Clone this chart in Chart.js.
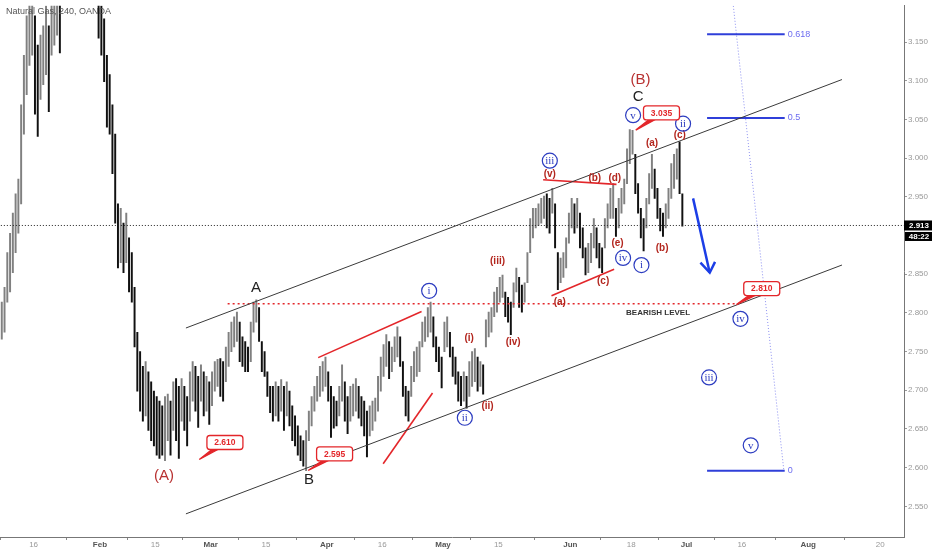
<!DOCTYPE html>
<html>
<head>
<meta charset="utf-8">
<script src="https://cdn.jsdelivr.net/npm/chart.js@4.4.0/dist/chart.umd.min.js"></script>
<style>
    html, body { margin: 0; padding: 0; background: #fff; }
    #wrap { width: 932px; height: 550px; }
</style>
</head>
<body>
<div id="wrap"><canvas id="myChart"></canvas></div>
<script>
// x unit = trading day, 0 = Jan 16 2018; two bars per day
const firstDay = -6;
const barsPerDay = 2;

const barHighs = [
    2.814, 2.833, 2.878, 2.903, 2.929, 2.954, 2.973, 3.069, 3.133, 3.184,
    3.220, 3.220, 3.184, 3.146, 3.159, 3.171, 3.197, 3.171, 3.210, 3.220,
    3.235, 3.210, 3.300, 3.400, 3.480, 3.520, 3.580, 3.620, 3.660, 3.600,
    3.520, 3.450, 3.400, 3.340, 3.300, 3.220, 3.197, 3.180, 3.133, 3.108,
    3.069, 3.031, 2.941, 2.935, 2.916, 2.929, 2.897, 2.878, 2.833, 2.775,
    2.750, 2.731, 2.737, 2.724, 2.711, 2.699, 2.692, 2.686, 2.680, 2.692,
    2.695, 2.686, 2.711, 2.715, 2.705, 2.715, 2.705, 2.692, 2.724, 2.737,
    2.731, 2.718, 2.733, 2.724, 2.718, 2.711, 2.724, 2.737, 2.740, 2.741,
    2.737, 2.756, 2.775, 2.788, 2.795, 2.801, 2.788, 2.769, 2.763, 2.756,
    2.788, 2.814, 2.817, 2.807, 2.763, 2.750, 2.724, 2.705, 2.705, 2.711,
    2.705, 2.714, 2.705, 2.711, 2.699, 2.680, 2.667, 2.654, 2.641, 2.635,
    2.648, 2.673, 2.692, 2.705, 2.718, 2.731, 2.737, 2.743, 2.724, 2.705,
    2.692, 2.686, 2.705, 2.733, 2.711, 2.692, 2.705, 2.708, 2.715, 2.705,
    2.692, 2.686, 2.673, 2.680, 2.686, 2.690, 2.718, 2.743, 2.759, 2.772,
    2.763, 2.756, 2.769, 2.782, 2.769, 2.737, 2.705, 2.699, 2.731, 2.750,
    2.756, 2.763, 2.788, 2.795, 2.807, 2.814, 2.795, 2.769, 2.756, 2.743,
    2.788, 2.795, 2.775, 2.756, 2.743, 2.724, 2.718, 2.724, 2.718, 2.737,
    2.750, 2.754, 2.743, 2.737, 2.733, 2.791, 2.801, 2.807, 2.827, 2.833,
    2.846, 2.849, 2.827, 2.820, 2.814, 2.839, 2.858, 2.846, 2.836, 2.839,
    2.878, 2.922, 2.935, 2.935, 2.941, 2.948, 2.951, 2.954, 2.948, 2.961,
    2.941, 2.878, 2.871, 2.878, 2.897, 2.929, 2.948, 2.941, 2.948, 2.929,
    2.910, 2.884, 2.890, 2.903, 2.922, 2.910, 2.890, 2.884, 2.922, 2.941,
    2.961, 2.967, 2.935, 2.948, 2.961, 2.973, 3.012, 3.037, 3.036, 3.005,
    2.967, 2.935, 2.922, 2.948, 2.980, 3.005, 2.986, 2.961, 2.935, 2.929,
    2.941, 2.961, 2.993, 3.005, 3.012, 3.021, 2.954
];

const barLows = [
    2.766, 2.775, 2.814, 2.827, 2.852, 2.878, 2.903, 2.941, 3.031, 3.082,
    3.120, 3.133, 3.057, 3.028, 3.076, 3.095, 3.108, 3.060, 3.133, 3.146,
    3.159, 3.136, 3.200, 3.260, 3.330, 3.400, 3.440, 3.500, 3.520, 3.450,
    3.380, 3.320, 3.270, 3.240, 3.210, 3.155, 3.133, 3.099, 3.040, 3.031,
    2.980, 2.916, 2.858, 2.865, 2.852, 2.865, 2.827, 2.814, 2.756, 2.699,
    2.673, 2.660, 2.667, 2.648, 2.635, 2.628, 2.616, 2.612, 2.616, 2.609,
    2.635, 2.616, 2.648, 2.635, 2.612, 2.660, 2.648, 2.628, 2.660, 2.686,
    2.673, 2.652, 2.686, 2.667, 2.673, 2.656, 2.680, 2.699, 2.705, 2.692,
    2.686, 2.711, 2.731, 2.750, 2.756, 2.763, 2.737, 2.731, 2.724, 2.724,
    2.737, 2.775, 2.788, 2.763, 2.724, 2.718, 2.692, 2.671, 2.660, 2.667,
    2.660, 2.673, 2.648, 2.667, 2.654, 2.635, 2.628, 2.616, 2.609, 2.602,
    2.596, 2.635, 2.654, 2.673, 2.686, 2.692, 2.699, 2.705, 2.686, 2.639,
    2.651, 2.654, 2.667, 2.686, 2.660, 2.644, 2.660, 2.667, 2.673, 2.664,
    2.654, 2.641, 2.614, 2.641, 2.648, 2.660, 2.673, 2.699, 2.718, 2.731,
    2.715, 2.724, 2.737, 2.743, 2.731, 2.692, 2.667, 2.660, 2.692, 2.711,
    2.718, 2.724, 2.756, 2.763, 2.769, 2.775, 2.756, 2.737, 2.724, 2.703,
    2.750, 2.756, 2.743, 2.718, 2.708, 2.686, 2.680, 2.686, 2.677, 2.692,
    2.705, 2.711, 2.699, 2.705, 2.695, 2.756, 2.769, 2.775, 2.795, 2.801,
    2.814, 2.820, 2.795, 2.788, 2.772, 2.807, 2.827, 2.807, 2.801, 2.814,
    2.839, 2.878, 2.897, 2.910, 2.913, 2.916, 2.922, 2.910, 2.903, 2.929,
    2.884, 2.830, 2.839, 2.846, 2.858, 2.890, 2.910, 2.903, 2.910, 2.884,
    2.871, 2.849, 2.852, 2.865, 2.884, 2.871, 2.858, 2.852, 2.884, 2.910,
    2.922, 2.922, 2.899, 2.910, 2.929, 2.941, 2.967, 2.993, 3.005, 2.954,
    2.929, 2.897, 2.880, 2.910, 2.941, 2.961, 2.948, 2.922, 2.906, 2.899,
    2.910, 2.922, 2.948, 2.961, 2.973, 2.954, 2.912
];

const tickDays = [0, 12, 22, 32, 42, 53, 63, 74, 84, 97, 108, 118, 128, 140, 153];
const tickLabels = ['16', 'Feb', '15', 'Mar', '15', 'Apr', '16', 'May', '15', 'Jun', '18', 'Jul', '16', 'Aug', '20'];
const monthNames = ['Feb', 'Mar', 'Apr', 'May', 'Jun', 'Jul', 'Aug'];
const priceTicks = [2.55, 2.60, 2.65, 2.70, 2.75, 2.80, 2.85, 2.90, 2.95, 3.00, 3.05, 3.10, 3.15];

const lastPrice = 2.913;
const countdown = '48:22';

// drawn lines [day, price]
const upperChannel = [[27.53, 2.7805], [146.1, 3.1016]];
const lowerChannel = [[27.53, 2.5403], [146.1, 2.8619]];
const bearishLevel = [[35.07, 2.812], [127.0, 2.812]];
const redLineA = [[51.44, 2.7422], [70.12, 2.8018]];
const redLineB = [[63.18, 2.6051], [72.1, 2.6965]];
const redLineC = [[92.09, 2.9721], [105.35, 2.9661]];
const redLineD = [[93.6, 2.8223], [104.92, 2.8563]];
const fibStart = 121.72;
const fibEnd = 135.75;
const fibLevels = ['0.618', '0.5', '0'];
const fibPrices = [3.160, 3.052, 2.596];
const fibDiagonal = [[121.72, 3.509], [135.6, 2.596]];
const arrowShaft = [[119.19, 2.948], [122.2, 2.852]];
const arrowHead = [[120.52, 2.865], [122.2, 2.852], [123.16, 2.866]];

// wave labels [text, day, price]
const blackWaves = [['A', 40.18, 2.8328], ['B', 49.76, 2.5845], ['C', 109.25, 3.079]];
const majorWaves = [['(A)', 23.56, 2.590], ['(B)', 109.68, 3.1011]];
const minorWaves = [
    ['(i)', 78.72, 2.7667], ['(ii)', 82.04, 2.6795], ['(iii)', 83.85, 2.8669], ['(iv)', 86.67, 2.7616],
    ['(v)', 93.3, 2.9797], ['(b)', 101.43, 2.9746], ['(d)', 105.04, 2.9746], ['(e)', 105.53, 2.8903],
    ['(c)', 102.93, 2.8413], ['(a)', 95.1, 2.8136], ['(a)', 111.78, 3.0189], ['(b)', 113.59, 2.8839],
    ['(c)', 116.78, 3.0295]
];
const circledWaves = [
    ['i', 71.49, 2.8286], ['ii', 77.94, 2.6645], ['iii', 93.3, 2.9967], ['iv', 106.54, 2.8711],
    ['i', 109.86, 2.8618], ['v', 108.35, 3.0555], ['ii', 117.38, 3.0445], ['iv', 127.75, 2.7924],
    ['iii', 122.08, 2.7166], ['v', 129.61, 2.6289]
];
// [text, box day, box price, tip day, tip price]
const priceBoxes = [
    ['2.610', 34.58, 2.6325, 29.94, 2.6105],
    ['2.595', 54.4, 2.6177, 49.63, 2.5964],
    ['3.035', 113.48, 3.0585, 108.83, 3.0363],
    ['2.810', 131.6, 2.8315, 127.03, 2.8108]
];
const levelNote = ['BEARISH LEVEL', 112.86, 2.7999];


function pts(arr) {
    return arr.map(function (p) { return { x: p[0], y: p[1] }; });
}

function lineSet(arr, color, width, dash) {
    return {
        type: 'line',
        data: pts(arr),
        borderColor: color,
        borderWidth: width,
        borderDash: dash || [],
        pointRadius: 0,
        fill: false,
        tension: 0,
        order: 0
    };
}

var bars = [];
var barColors = [];
for (var i = 0; i < barLows.length; i++) {
    bars.push({ x: firstDay + (i + 0.5) / barsPerDay, y: [barLows[i], barHighs[i]] });
    var mid = (barLows[i] + barHighs[i]) / 2;
    var prev = i > 0 ? (barLows[i - 1] + barHighs[i - 1]) / 2 : mid;
    barColors.push(mid >= prev ? '#808080' : '#111111');
}

var datasets = [{
    type: 'bar',
    data: bars,
    backgroundColor: barColors,
    barThickness: 1.3,
    order: 5
}];

datasets.push(lineSet(upperChannel, '#3a3a3a', 1));
datasets.push(lineSet(lowerChannel, '#3a3a3a', 1));
datasets.push(lineSet([[firstDay - 1, lastPrice], [160, lastPrice]], '#222', 1, [1, 2]));
datasets.push(lineSet(bearishLevel, '#e3262a', 1.5, [2, 3]));
datasets.push(lineSet(redLineA, '#e3262a', 1.6));
datasets.push(lineSet(redLineB, '#e3262a', 1.6));
datasets.push(lineSet(redLineC, '#e3262a', 1.6));
datasets.push(lineSet(redLineD, '#e3262a', 1.6));
for (var f = 0; f < fibPrices.length; f++) {
    datasets.push(lineSet([[fibStart, fibPrices[f]], [fibEnd, fibPrices[f]]], '#2f3fd9', 2));
}
datasets.push(lineSet(fibDiagonal, '#8c90f0', 1, [1, 2]));
datasets.push(lineSet(arrowShaft, '#1c3ee6', 2.5));
datasets.push(lineSet(arrowHead, '#1c3ee6', 2.5));


const overlay = {
    id: 'overlay',
    afterDraw: function (chart) {
        var c = chart.ctx;
        var xs = chart.scales.x, ys = chart.scales.y;
        var X = function (d) { return xs.getPixelForValue(d); };
        var Y = function (p) { return ys.getPixelForValue(p); };
        c.save();
        c.textAlign = 'center';
        c.textBaseline = 'middle';

        c.font = '9px "Liberation Sans", Arial, sans-serif';
        c.fillStyle = '#555';
        c.textAlign = 'left';
        c.fillText('Natural Gas, 240, OANDA', 6, 12);
        c.textAlign = 'center';

        c.font = '15px "Liberation Sans", Arial, sans-serif';
        c.fillStyle = '#222';
        blackWaves.forEach(function (w) { c.fillText(w[0], X(w[1]), Y(w[2])); });

        c.fillStyle = '#b83232';
        majorWaves.forEach(function (w) { c.fillText(w[0], X(w[1]), Y(w[2])); });

        c.font = 'bold 10px "Liberation Sans", Arial, sans-serif';
        c.fillStyle = '#b3261e';
        minorWaves.forEach(function (w) { c.fillText(w[0], X(w[1]), Y(w[2])); });

        c.font = '11px "Liberation Serif", "DejaVu Serif", serif';
        c.strokeStyle = '#2c3cc0';
        c.fillStyle = '#2c3cc0';
        c.lineWidth = 1.2;
        circledWaves.forEach(function (w) {
            var px = X(w[1]), py = Y(w[2]);
            c.beginPath();
            c.arc(px, py, 7.5, 0, Math.PI * 2);
            c.stroke();
            c.fillText(w[0], px, py + 0.5);
        });

        c.font = 'bold 8px "Liberation Sans", Arial, sans-serif';
        c.fillStyle = '#333';
        c.fillText(levelNote[0], X(levelNote[1]), Y(levelNote[2]));

        c.font = '9px "Liberation Sans", Arial, sans-serif';
        c.fillStyle = '#6c6cf0';
        c.textAlign = 'left';
        fibLevels.forEach(function (t, k) { c.fillText(t, X(fibEnd) + 3, Y(fibPrices[k])); });
        c.textAlign = 'center';

        // price callouts
        c.font = 'bold 8.5px "Liberation Sans", Arial, sans-serif';
        priceBoxes.forEach(function (b) {
            var cx = X(b[1]), cy = Y(b[2]), tx = X(b[3]), ty = Y(b[4]);
            var w = 36, h = 14, bx = cx - w / 2, by = cy - h / 2;
            c.strokeStyle = '#e3262a';
            c.fillStyle = '#e3262a';
            c.lineWidth = 1.3;
            c.beginPath();
            c.moveTo(bx + 5, by + h);
            c.lineTo(tx, ty);
            c.lineTo(bx + 11, by + h);
            c.closePath();
            c.fill();
            c.stroke();
            c.fillStyle = '#fff';
            c.beginPath();
            c.roundRect(bx, by, w, h, 3);
            c.fill();
            c.stroke();
            c.fillStyle = '#e3262a';
            c.fillText(b[0], cx, cy + 0.5);
        });

        // last price tags on the price axis
        var ly = Y(lastPrice);
        var ax = chart.chartArea.right;
        c.fillStyle = '#000';
        c.fillRect(ax, ly - 5, chart.width - ax, 10);
        c.fillRect(ax + 1, ly + 6.5, chart.width - ax - 1, 9);
        c.fillStyle = '#fff';
        c.font = 'bold 8px "Liberation Sans", Arial, sans-serif';
        c.fillText(lastPrice.toFixed(3), (ax + chart.width) / 2 + 1, ly + 0.5);
        c.fillText(countdown, (ax + chart.width) / 2 + 1, ly + 11);
        c.restore();
    }
};

const config = {
    type: 'bar',
    data: { datasets: datasets },
    options: {
        responsive: true,
        maintainAspectRatio: false,
        animation: false,
        layout: { padding: 0 },
        plugins: {
            legend: { display: false },
            tooltip: { enabled: false }
        },
        scales: {
            x: {
                type: 'linear',
                offset: false,
                min: -6.07,
                max: 157.31,
                afterBuildTicks: function (scale) {
                    scale.ticks = tickDays.map(function (d) { return { value: d }; });
                },
                afterFit: function (scale) { scale.height = 13; },
                grid: { drawOnChartArea: false, drawTicks: true, tickLength: 3, tickColor: '#888' },
                border: { color: '#777', width: 1 },
                ticks: {
                    autoSkip: false,
                    maxRotation: 0,
                    padding: 0,
                    callback: function (v, idx) { return tickLabels[idx]; },
                    color: function (ctx) {
                        return monthNames.indexOf(tickLabels[ctx.index]) >= 0 ? '#555' : '#999';
                    },
                    font: function (ctx) {
                        var bold = monthNames.indexOf(tickLabels[ctx.index]) >= 0;
                        return { family: '"Liberation Sans", Arial, sans-serif', size: 8, weight: bold ? 'bold' : 'normal' };
                    }
                }
            },
            y: {
                position: 'right',
                min: 2.5104,
                max: 3.1969,
                afterBuildTicks: function (scale) {
                    scale.ticks = priceTicks.map(function (p) { return { value: p }; });
                },
                afterFit: function (scale) { scale.width = 28; },
                grid: { drawOnChartArea: false, drawTicks: true, tickLength: 3, tickColor: '#999' },
                border: { color: '#777', width: 1 },
                ticks: {
                    padding: 1,
                    color: '#999',
                    font: { family: '"Liberation Sans", Arial, sans-serif', size: 8 },
                    callback: function (v) { return Number(v).toFixed(3); }
                }
            }
        }
    },
    plugins: [overlay]
};

var ctx = document.getElementById('myChart').getContext('2d');
const myChart = new Chart(ctx, config);
</script>
</body>
</html>
